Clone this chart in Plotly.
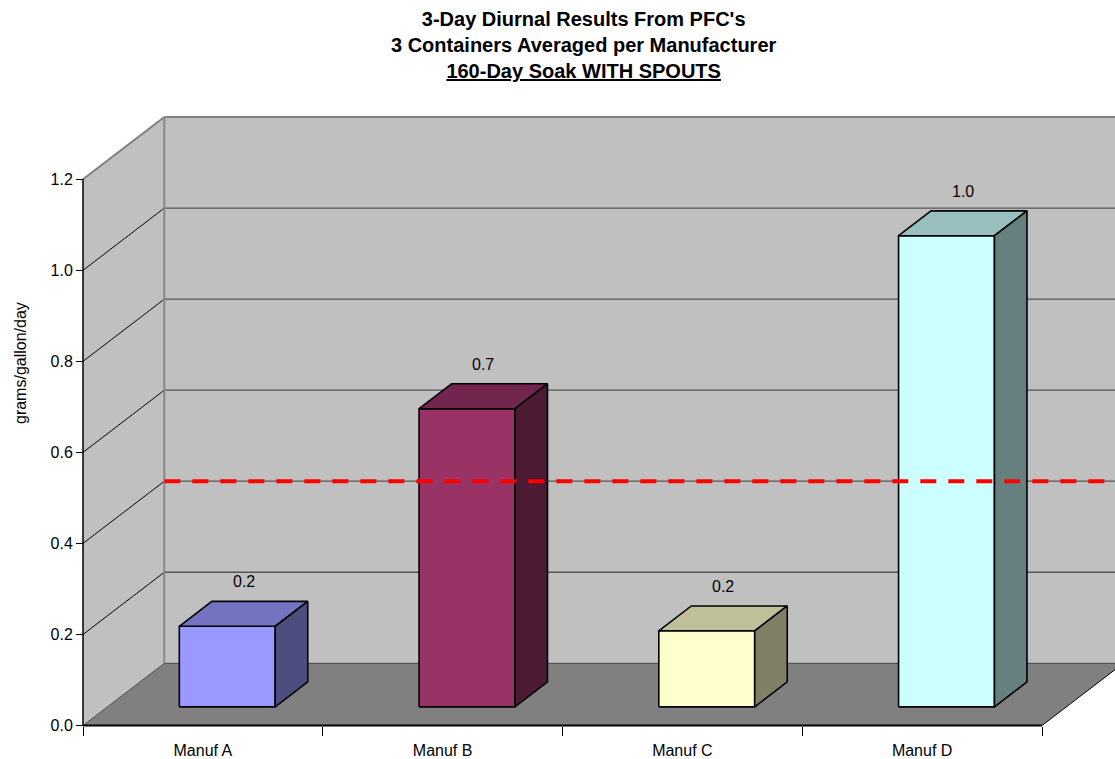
import plotly.graph_objects as go

# ---------------- data ----------------
categories = ["Manuf A", "Manuf B", "Manuf C", "Manuf D"]
values = [0.177, 0.655, 0.167, 1.035]          # grams/gallon/day
y_ticks = [0.0, 0.2, 0.4, 0.6, 0.8, 1.0, 1.2]
limit_value = 0.4                               # red dashed reference line (drawn on back wall)
title_lines = ["3-Day Diurnal Results From PFC's",
               "3 Containers Averaged per Manufacturer",
               "160-Day Soak WITH SPOUTS"]
y_title = "grams/gallon/day"

# ---------------- styles ----------------
front_cols = ["#9999FF", "#993366", "#FFFFCC", "#CCFFFF"]
top_cols = ["#7373BF", "#73264D", "#BFBF99", "#99BFBF"]
side_cols = ["#4D4D80", "#4D1A33", "#808066", "#668080"]
FONT = "Liberation Sans, Arial, sans-serif"

W, H = 1115, 759
# pixel geometry of the front plane
PX0, PX_PER_CAT = 83.0, 239.75
PY0, PY_PER_UNIT = 725.5, 455.2
# oblique depth offset (full depth) in data units
DX = 81.3 / PX_PER_CAT
DY = 62.2 / PY_PER_UNIT
ymax = max(y_ticks)
ncat = len(categories)

x_range = [(0 - PX0) / PX_PER_CAT, (W - PX0) / PX_PER_CAT]
y_range = [(PY0 - H) / PY_PER_UNIT, PY0 / PY_PER_UNIT]


def P(x, y, d):
    return x + d * DX, y + d * DY


def poly(pts, fill, line_color=None, line_width=0):
    xs = [p[0] for p in pts] + [pts[0][0]]
    ys = [p[1] for p in pts] + [pts[0][1]]
    return go.Scatter(x=xs, y=ys, mode="lines", fill="toself", fillcolor=fill,
                      line=dict(color=line_color or fill, width=line_width if line_color else 0),
                      hoverinfo="skip", showlegend=False)


def seg(p, q, color, width, dash=None):
    return go.Scatter(x=[p[0], q[0]], y=[p[1], q[1]], mode="lines",
                      line=dict(color=color, width=width, dash=dash),
                      hoverinfo="skip", showlegend=False)


traces = []
# walls and floor
traces.append(poly([P(0, 0, 0), P(0, 0, 1), P(0, ymax, 1), P(0, ymax, 0)], "#C0C0C0"))
traces.append(poly([P(0, 0, 1), P(ncat, 0, 1), P(ncat, ymax, 1), P(0, ymax, 1)], "#C0C0C0"))
traces.append(poly([P(0, 0, 0), P(ncat, 0, 0), P(ncat, 0, 1), P(0, 0, 1)], "#808080"))

# gridlines
for t in y_ticks:
    if t in (0.0, ymax):
        continue
    traces.append(seg(P(0, t, 0), P(0, t, 1), "#000000", 1))
    traces.append(seg(P(0, t, 1), P(ncat, t, 1), "#555555", 1.3))
traces.append(seg(P(0, 0, 1), P(ncat, 0, 1), "#555555", 1.3))
traces.append(seg(P(0, 0, 0), P(0, 0, 1), "#505050", 1))
# wall edges
traces.append(seg(P(0, ymax, 0), P(0, ymax, 1), "#808080", 2))
traces.append(seg(P(0, ymax, 1), P(ncat, ymax, 1), "#808080", 2))
traces.append(seg(P(0, 0, 1), P(0, ymax, 1), "#888888", 2))
# floor right edge
traces.append(seg(P(ncat, 0, 0), P(ncat, 0, 1), "#000000", 1))

# bars
bw0, bw1 = 0.3, 0.7     # bar extent inside category (fraction)
d0, d1 = 0.3, 0.7       # bar extent in depth
for i, v in enumerate(values):
    x0, x1 = i + bw0, i + bw1
    traces.append(poly([P(x0, 0, d0), P(x1, 0, d0), P(x1, v, d0), P(x0, v, d0)],
                       front_cols[i], "#000000", 1.6))
    traces.append(poly([P(x0, v, d0), P(x1, v, d0), P(x1, v, d1), P(x0, v, d1)],
                       top_cols[i], "#000000", 1.6))
    traces.append(poly([P(x1, 0, d0), P(x1, 0, d1), P(x1, v, d1), P(x1, v, d0)],
                       side_cols[i], "#000000", 1.6))

# axis lines
traces.append(seg(P(0, 0, 0), P(0, ymax, 0), "#000000", 1.5))
traces.append(seg(P(0, 0, 0), P(ncat, 0, 0), "#000000", 2))

# red dashed reference line
traces.append(seg(P(0, limit_value, 1), (x_range[1] + 1, P(0, limit_value, 1)[1]),
                  "#FF0000", 4, dash="16px,12px"))

# dummy trace for the category label axis
traces.append(go.Scatter(x=[0.5], y=[-5], xaxis="x2", mode="markers",
                         marker=dict(opacity=0), hoverinfo="skip", showlegend=False))

fig = go.Figure(traces)

# data labels
annotations = []
for i, v in enumerate(values):
    cx, cy = P(i + 0.5, v, (d0 + d1) / 2)
    annotations.append(dict(x=cx, y=cy, xref="x", yref="y", text=f"{v:.1f}",
                            showarrow=False, yshift=32, xanchor="center",
                            font=dict(family=FONT, size=16, color="#000000")))

annotations.append(dict(x=20 / W, y=1 - 363 / H, xref="paper", yref="paper",
                        xanchor="center", yanchor="middle",
                        text=y_title, textangle=-90, showarrow=False,
                        font=dict(family=FONT, size=16, color="#000000")))
annotations.append(dict(x=584 / W, y=1 - 6 / H, xref="paper", yref="paper",
                        xanchor="center", yanchor="top",
                        text="<b>" + title_lines[0] + "<br>" + title_lines[1] +
                             "<br><u>" + title_lines[2] + "</u></b>",
                        showarrow=False, align="center",
                        font=dict(family=FONT, size=20, color="#000000")))

fig.update_layout(
    width=W, height=H, margin=dict(l=0, r=0, t=0, b=0),
    paper_bgcolor="white", plot_bgcolor="white",
    hovermode=False, showlegend=False,
    annotations=annotations,
    xaxis=dict(range=x_range, showgrid=False, zeroline=False, showline=False,
               tickvals=list(range(ncat + 1)), ticktext=[""] * (ncat + 1),
               ticks="outside", ticklen=9, tickwidth=1, tickcolor="#000000",
               anchor="free", position=(H - PY0) / H, fixedrange=True),
    xaxis2=dict(range=x_range, overlaying="x", showgrid=False, zeroline=False, showline=False,
                tickvals=[i + 0.5 for i in range(ncat)], ticktext=categories,
                ticks="outside", ticklen=10, tickcolor="rgba(0,0,0,0)",
                tickfont=dict(family=FONT, size=16, color="#000000"),
                anchor="free", position=(H - PY0) / H, side="bottom", fixedrange=True),
    yaxis=dict(range=y_range, showgrid=False, zeroline=False, showline=False,
               tickvals=y_ticks, ticktext=[f"{t:.1f}" for t in y_ticks],
               ticks="outside", ticklen=7, tickwidth=1, tickcolor="#000000",
               tickfont=dict(family=FONT, size=16, color="#000000"),
               anchor="free", position=PX0 / W, fixedrange=True),
)

fig.write_html("out.html")
